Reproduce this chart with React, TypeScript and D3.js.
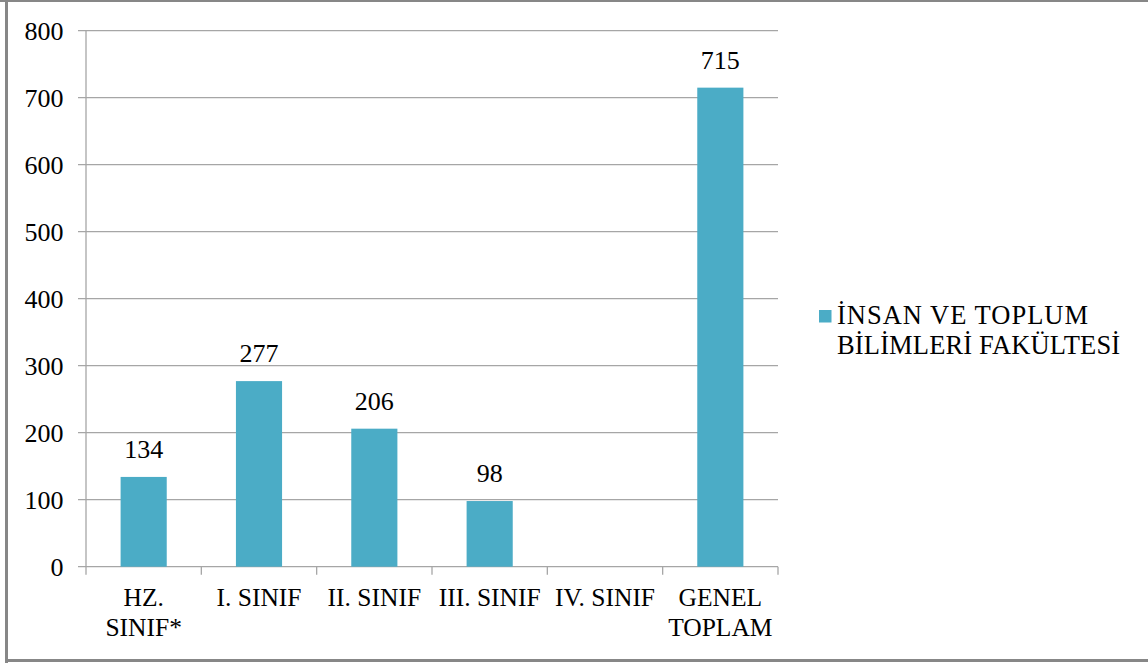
import React from "react";
import * as d3 from "d3";

const categories: string[][] = [
  ["HZ.", "SINIF*"],
  ["I. SINIF"],
  ["II. SINIF"],
  ["III. SINIF"],
  ["IV. SINIF"],
  ["GENEL", "TOPLAM"],
];
const values: (number | null)[] = [134, 277, 206, 98, null, 715];
const yTicks: number[] = [0, 100, 200, 300, 400, 500, 600, 700, 800];
const seriesName: string[] = ["İNSAN VE TOPLUM", "BİLİMLERİ FAKÜLTESİ"];

const W = 1148;
const H = 663;
const FONT = "'Liberation Serif', 'Times New Roman', serif";
const COLOR = "#4BACC6";
const GRID = "#A6A6A6";

export default function App() {
  const left = 86;
  const right = 778;
  const top = 30.7;
  const bottom = 566.7;
  const idx = categories.map((_, i) => String(i));
  const x = d3.scaleBand<string>().domain(idx).range([left, right]).paddingInner(0.6).paddingOuter(0.3);
  const xOuter = d3.scaleBand<string>().domain(idx).range([left, right]);
  const y = d3.scaleLinear().domain([0, 800]).range([bottom, top]);

  return (
    <div style={{ position: "absolute", left: 0, top: 0 }}>
      <svg width={W} height={H} style={{ display: "block" }}>
        <rect x={0} y={0} width={W} height={H} fill="#fff" />
        {/* frame */}
        <line x1={6.5} x2={6.5} y1={0} y2={H} stroke="#878787" strokeWidth={3} />
        <line x1={0} x2={W} y1={1} y2={1} stroke="#878787" strokeWidth={2} />
        <line x1={5} x2={W} y1={660.5} y2={660.5} stroke="#878787" strokeWidth={3} />
        {/* gridlines and y ticks */}
        {yTicks.map((t) => (
          <g key={t}>
            <line x1={left - 8} x2={right} y1={y(t)} y2={y(t)} stroke={GRID} strokeWidth={1.3} />
            <text x={63.5} y={y(t)} dy="0.34em" textAnchor="end" fontSize={26} style={{ fontFamily: FONT }} fill="#000">
              {t}
            </text>
          </g>
        ))}
        {/* y axis */}
        <line x1={left} x2={left} y1={top} y2={bottom} stroke={GRID} strokeWidth={1.3} />
        {/* x ticks */}
        {idx.concat([String(idx.length)]).map((k, i) => {
          const xx = left + i * xOuter.step();
          return <line key={k} x1={xx} x2={xx} y1={bottom} y2={bottom + 8} stroke={GRID} strokeWidth={1.3} />;
        })}
        {/* bars */}
        {values.map((v, i) =>
          v == null ? null : (
            <g key={i}>
              <rect x={x(String(i))!} y={y(v)} width={x.bandwidth()} height={bottom - y(v)} fill={COLOR} />
              <text
                x={x(String(i))! + x.bandwidth() / 2}
                y={y(v) - 19}
                textAnchor="middle"
                fontSize={26}
                style={{ fontFamily: FONT }}
                fill="#000"
              >
                {v}
              </text>
            </g>
          )
        )}
        {/* category labels */}
        {categories.map((lines, i) => {
          const cx = xOuter(String(i))! + xOuter.bandwidth() / 2;
          return (
            <text key={i} x={cx} y={606} textAnchor="middle" fontSize={25.5} style={{ fontFamily: FONT }} fill="#000">
              {lines.map((l, j) => (
                <tspan key={j} x={cx} dy={j === 0 ? 0 : 29.5}>
                  {l}
                </tspan>
              ))}
            </text>
          );
        })}
        {/* legend */}
        <rect x={819} y={310} width={12.5} height={12.5} fill={COLOR} />
        <text x={837} y={324} fontSize={26.5} style={{ fontFamily: FONT }} fill="#000">
          {seriesName.map((l, j) => (
            <tspan key={j} x={837} dy={j === 0 ? 0 : 30} letterSpacing={j === 0 ? 1 : 0.15}>
              {l}
            </tspan>
          ))}
        </text>
      </svg>
    </div>
  );
}
